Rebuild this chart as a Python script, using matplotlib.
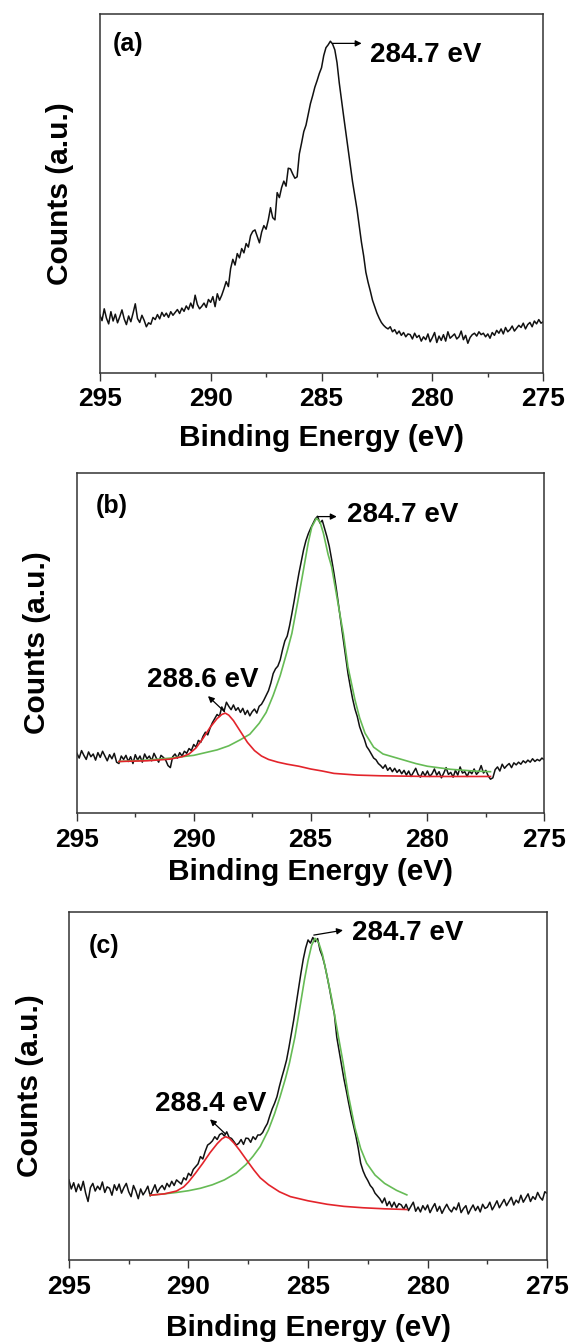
import numpy as np
import matplotlib.pyplot as plt

plt.rcParams['font.family'] = ['Liberation Sans', 'DejaVu Sans']
plt.rcParams['font.weight'] = 'bold'

# binding energy grid of the measured spectra (eV), 0.1 eV steps
energy = np.round(np.arange(295.0, 274.95, -0.1), 1)

counts_a = [
    16.1, 14.5, 17.8, 15.2, 13.6, 17.0, 14.4, 16.3, 13.9, 15.6,
    17.5, 15.0, 13.4, 15.8, 14.2, 16.6, 19.2, 15.1, 14.0, 16.0,
    14.6, 12.8, 13.9, 13.5, 15.4, 14.8, 16.2, 15.0, 16.8, 15.7,
    16.6, 15.4, 17.0, 16.0, 16.8, 17.6, 16.5, 18.0, 17.1, 18.6,
    17.6, 19.4, 18.0, 21.6, 19.0, 17.8, 18.5, 19.4, 18.2, 20.4,
    19.6, 21.2, 18.4, 22.0, 20.2, 21.6, 23.4, 25.4, 24.0, 29.0,
    31.6, 30.0, 33.2, 32.0, 34.6, 33.4, 36.0, 35.0, 38.2, 39.4,
    39.8, 38.0, 36.2, 39.2, 41.0, 40.0, 42.6, 46.0, 43.2, 42.6,
    50.2, 48.8, 51.6, 53.4, 52.0, 57.0, 56.8, 55.4, 54.2, 54.6,
    61.0, 64.0, 67.2, 69.0, 72.0, 75.0, 77.2, 79.6, 81.4, 83.4,
    85.0, 88.4, 90.6, 91.4, 92.4, 91.6, 90.0, 86.4, 80.8, 76.0,
    71.4, 66.8, 62.0, 57.4, 53.2, 49.4, 45.6, 41.0, 36.4, 32.6,
    28.0, 25.2, 22.8, 20.2, 18.4, 16.6, 15.2, 14.0, 13.2, 12.6,
    12.2, 12.8, 11.4, 12.0, 10.8, 11.6, 10.4, 11.2, 10.0, 10.8,
    10.6, 9.4, 11.0, 9.8, 10.4, 8.8, 10.0, 9.2, 10.8, 8.6,
    9.8, 11.2, 8.4, 10.2, 9.0, 10.6, 8.8, 11.4, 9.6, 10.2,
    10.8, 9.4, 10.0, 11.6, 9.2, 10.4, 8.2, 9.8, 10.6, 11.0,
    10.2, 11.4, 10.6, 11.0, 10.0, 10.8, 9.6, 11.2, 10.4, 11.8,
    11.0, 12.2, 10.8, 12.6, 11.4, 12.0, 13.0, 11.6, 12.4, 13.2,
    12.6, 13.8, 12.2, 13.4, 14.0, 12.8, 14.4, 13.6, 14.8, 13.8,
    14.2,
]

counts_b = [
    17.6, 16.2, 18.4, 17.0, 15.8, 18.0, 16.6, 17.4, 15.6, 17.8,
    16.4, 18.2, 16.8, 15.4, 17.2, 16.0, 17.6, 15.0, 14.6, 16.8,
    15.8, 17.0, 15.2, 16.6, 14.6, 17.2, 15.6, 16.8, 15.0, 17.4,
    16.0, 16.8, 15.4, 17.6, 16.2, 15.0, 17.0, 16.4, 15.6, 14.0,
    13.4, 16.6, 17.4, 16.2, 17.8, 16.8, 18.2, 17.6, 19.0, 18.4,
    20.2, 19.4, 21.4, 20.8, 22.6, 23.8, 23.0, 25.0, 26.6, 27.8,
    29.0, 28.4, 31.2, 30.0, 32.6, 31.4, 30.4, 31.8, 30.2, 31.0,
    29.6, 30.8, 29.0, 30.2, 28.6, 29.8, 30.6, 29.4, 31.4, 32.0,
    33.2, 34.6, 36.0, 38.2, 41.0, 42.4, 43.2, 45.0, 48.0, 50.6,
    52.0, 55.0, 58.6, 62.4, 66.5, 70.4, 73.8, 77.3, 80.0, 82.0,
    83.6, 85.0, 86.4, 87.2, 85.2, 86.0, 83.6, 81.2, 78.4, 74.6,
    70.5, 66.0, 61.0, 55.8, 51.0, 46.0, 41.1, 37.2, 33.6, 30.6,
    28.4, 25.4, 23.5, 21.8, 19.6, 18.6, 17.4, 16.2, 15.7, 14.6,
    14.0, 13.2, 14.2, 12.6, 13.4, 12.2, 13.2, 12.0, 12.8, 11.6,
    12.6, 11.2, 12.4, 10.8, 12.0, 13.2, 11.4, 10.6, 12.2, 11.0,
    12.4, 10.8, 11.6, 13.0, 11.2, 12.2, 10.4, 11.8, 13.4, 11.4,
    12.0, 10.6, 12.6, 11.2, 13.6, 11.8, 12.2, 10.8, 12.4, 11.6,
    13.0, 11.4, 12.2, 14.0, 11.8, 12.6, 11.0, 10.0, 10.4, 12.8,
    13.6, 12.4, 14.4, 13.2, 14.0, 14.6, 13.4, 14.8, 14.2, 15.0,
    14.4, 15.4, 14.8, 15.6, 15.0, 16.0, 15.2, 15.8, 15.4, 16.2,
    15.7,
]

counts_c = [
    23.0, 20.4, 22.2, 19.6, 21.8, 20.0, 22.6, 19.2, 16.8, 20.8,
    22.0, 19.8, 21.2, 20.2, 22.4, 19.4, 21.0, 20.6, 18.6, 21.6,
    20.0, 21.8, 19.2, 20.8, 22.0, 19.6, 18.2, 21.4, 19.8, 17.6,
    20.4, 18.7, 19.8, 21.2, 18.4, 20.0, 21.6, 19.4, 20.6, 21.4,
    20.2, 22.0, 21.0, 22.6, 21.4, 23.0, 22.4, 21.8, 23.6, 23.0,
    24.9, 24.2, 26.0, 26.8, 27.6, 29.7, 29.0, 31.2, 33.0, 33.5,
    34.2, 35.4, 34.6, 36.0, 36.4, 35.6, 36.8, 35.2, 34.9, 34.0,
    33.0, 33.5, 34.6, 33.2, 35.0, 34.9, 33.8, 35.4, 34.6, 35.9,
    35.9, 36.6, 38.0, 39.2, 41.4, 43.4, 45.0, 46.9, 49.8, 52.4,
    54.8, 57.4, 61.0, 65.0, 68.9, 73.4, 78.0, 82.3, 86.4, 89.6,
    91.9, 91.0, 92.6, 91.4, 92.3, 89.0, 87.2, 84.6, 81.3, 77.8,
    74.0, 70.6, 64.0, 60.0, 56.0, 52.0, 48.6, 45.0, 41.6, 38.6,
    35.6, 32.0, 27.8, 25.6, 24.0, 22.8, 21.4, 20.6, 19.2, 18.4,
    17.6, 16.4, 17.8, 15.6, 16.8, 15.2, 16.6, 15.0, 16.2, 15.8,
    14.6, 16.0, 14.2, 15.4, 16.6, 14.0, 15.2, 13.8, 15.6, 14.4,
    15.8, 13.6, 15.0, 16.2, 14.0, 15.4, 13.4, 14.8, 16.0, 14.6,
    13.8, 15.2, 14.4, 16.4, 13.6, 14.8, 15.6, 13.2, 14.6, 15.8,
    14.2, 15.4, 13.8, 16.0, 14.8, 15.2, 16.6, 14.4, 15.6, 17.0,
    15.0, 16.2, 17.4, 15.6, 16.8, 18.0, 15.8, 17.2, 16.4, 18.6,
    16.6, 17.8, 19.0, 16.8, 18.2, 17.4, 19.4, 18.0, 17.2, 19.6,
    19.1,
]

# fitted components (green: C-C 284.7 eV, red: O-C=O)
fit_b_green_x = [293.2, 292.0, 291.0, 290.0, 289.0, 288.5, 288.0, 287.6, 287.2, 286.9,
                 286.6, 286.3, 286.0, 285.8, 285.55, 285.3, 285.1, 284.95, 284.75, 284.6,
                 284.45, 284.25, 284.1, 283.85, 283.6, 283.4, 283.1, 282.9, 282.67, 282.3,
                 281.9, 281.2, 280.5, 280.0, 279.0, 278.0, 277.3]
fit_b_green_y = [15.2, 15.6, 16.2, 17.0, 18.6, 19.8, 21.6, 23.2, 26.4, 29.6,
                 34.6, 40.4, 47.6, 52.8, 62.0, 71.6, 79.4, 84.0, 86.6, 85.6,
                 82.2, 76.0, 72.4, 62.6, 52.8, 43.0, 33.3, 28.0, 23.5, 19.4,
                 17.4, 16.0, 14.6, 13.8, 12.9, 12.4, 12.2]
fit_b_red_x = [293.2, 292.0, 291.0, 290.5, 290.2, 289.9, 289.6, 289.3, 289.0, 288.8,
               288.65, 288.5, 288.3, 288.0, 287.7, 287.4, 287.1, 286.8, 286.4, 286.0,
               285.5, 285.0, 284.5, 284.0, 283.0, 282.0, 280.0, 277.3]
fit_b_red_y = [15.2, 15.4, 15.9, 16.6, 17.4, 19.2, 22.0, 25.2, 27.8, 29.0,
               29.4, 28.8, 27.2, 24.0, 20.8, 18.4, 16.8, 15.8, 15.0, 14.4,
               13.8, 13.0, 12.4, 11.7, 11.2, 11.0, 10.8, 10.8]

fit_c_green_x = [291.6, 291.0, 290.5, 290.0, 289.5, 289.0, 288.5, 288.0, 287.6, 287.3,
                 287.0, 286.66, 286.4, 286.17, 285.95, 285.78, 285.55, 285.34, 285.15, 285.0,
                 284.85, 284.71, 284.55, 284.4, 284.25, 284.01, 283.78, 283.53, 283.32, 283.04,
                 282.8, 282.55, 282.2, 281.8, 281.3, 280.87]
fit_c_green_y = [18.6, 19.0, 19.4, 19.9, 20.6, 21.6, 23.0, 25.0, 27.4, 29.8,
                 32.6, 37.3, 42.0, 46.9, 52.0, 56.5, 64.0, 72.6, 80.5, 86.0,
                 90.4, 92.4, 91.0, 87.8, 83.0, 75.0, 66.0, 56.5, 47.5, 38.0,
                 32.0, 27.8, 24.4, 22.0, 20.0, 18.7]
fit_c_red_x = [291.6, 291.0, 290.5, 290.2, 290.0, 289.7, 289.4, 289.1, 288.8, 288.6,
               288.45, 288.3, 288.1, 287.87, 287.6, 287.26, 287.0, 286.65, 286.2, 285.74,
               285.0, 284.2, 283.5, 282.7, 281.8, 280.87]
fit_c_red_y = [18.6, 19.0, 19.8, 21.0, 22.4, 25.0, 27.8, 30.8, 33.4, 34.8,
               35.4, 35.0, 33.6, 31.6, 29.0, 25.8, 23.6, 21.6, 19.6, 18.2,
               17.0, 16.0, 15.4, 15.0, 14.7, 14.5]

xticks = [295, 290, 285, 280, 275]

GREEN = '#66bb55'
RED = '#e3242b'


def style_axes(ax, xlab_y, ylab_x):
    ax.set_xlim(295, 275)
    ax.set_ylim(0, 100)
    ax.set_xticks(xticks)
    ax.set_xticks(np.arange(292.5, 275, -5), minor=True)
    ax.set_yticks([])
    ax.tick_params(axis='x', which='major', direction='out', length=5.5, width=1.0,
                   labelsize=19, pad=5, color='#333333')
    ax.tick_params(axis='x', which='minor', direction='out', length=3, width=1.0,
                   color='#333333')
    for lbl in ax.get_xticklabels():
        lbl.set_fontweight('bold')
    for s in ax.spines.values():
        s.set_linewidth(1.1)
        s.set_color('#333333')
    ax.set_xlabel('Binding Energy (eV)', fontsize=21.5, fontweight='bold')
    ax.set_ylabel('Counts (a.u.)', fontsize=21.5, fontweight='bold')
    ax.xaxis.set_label_coords(0.5, xlab_y)
    ax.yaxis.set_label_coords(ylab_x, 0.5)


def arrow(ax, tail, head):
    ax.annotate('', xy=head, xytext=tail,
                arrowprops=dict(arrowstyle='-|>', lw=0.9, color='black',
                                mutation_scale=9, shrinkA=0, shrinkB=0))


fig = plt.figure(figsize=(5.69, 13.42), dpi=100)

# (a)
ax_a = fig.add_axes([0.1754, 0.7223, 0.7793, 0.2673])
ax_a.plot(energy, counts_a, color='#111111', lw=1.1)
style_axes(ax_a, -0.143, -0.058)
ax_a.text(294.43, 91.6, '(a)', fontsize=18, fontweight='bold', ha='left', va='center')
ax_a.text(282.81, 88.6, '284.7 eV', fontsize=20, fontweight='bold', ha='left', va='center')
arrow(ax_a, (284.5, 91.8), (283.19, 91.8))

# (b)
ax_b = fig.add_axes([0.1351, 0.3940, 0.8214, 0.2538])
ax_b.plot(energy, counts_b, color='#111111', lw=1.1)
ax_b.plot(fit_b_green_x, fit_b_green_y, color=GREEN, lw=1.2)
ax_b.plot(fit_b_red_x, fit_b_red_y, color=RED, lw=1.2)
style_axes(ax_b, -0.13, -0.056)
ax_b.text(294.18, 90.3, '(b)', fontsize=18, fontweight='bold', ha='left', va='center')
ax_b.text(283.45, 87.6, '284.7 eV', fontsize=20, fontweight='bold', ha='left', va='center')
ax_b.text(292.0, 39.1, '288.6 eV', fontsize=20, fontweight='bold', ha='left', va='center')
arrow(ax_b, (284.67, 87.1), (283.88, 87.1))
arrow(ax_b, (288.68, 29.8), (289.39, 34.4))

# (c)
ax_c = fig.add_axes([0.1211, 0.0611, 0.8406, 0.2595])
ax_c.plot(energy, counts_c, color='#111111', lw=1.1)
ax_c.plot(fit_c_green_x, fit_c_green_y, color=GREEN, lw=1.2)
ax_c.plot(fit_c_red_x, fit_c_red_y, color=RED, lw=1.2)
style_axes(ax_c, -0.155, -0.053)
ax_c.text(294.16, 90.2, '(c)', fontsize=18, fontweight='bold', ha='left', va='center')
ax_c.text(283.16, 93.8, '284.7 eV', fontsize=20, fontweight='bold', ha='left', va='center')
ax_c.text(291.42, 44.9, '288.4 eV', fontsize=20, fontweight='bold', ha='left', va='center')
arrow(ax_c, (284.76, 93.3), (283.54, 94.7))
arrow(ax_c, (288.47, 36.3), (289.1, 40.4))

fig.savefig('out.png', dpi=100)
